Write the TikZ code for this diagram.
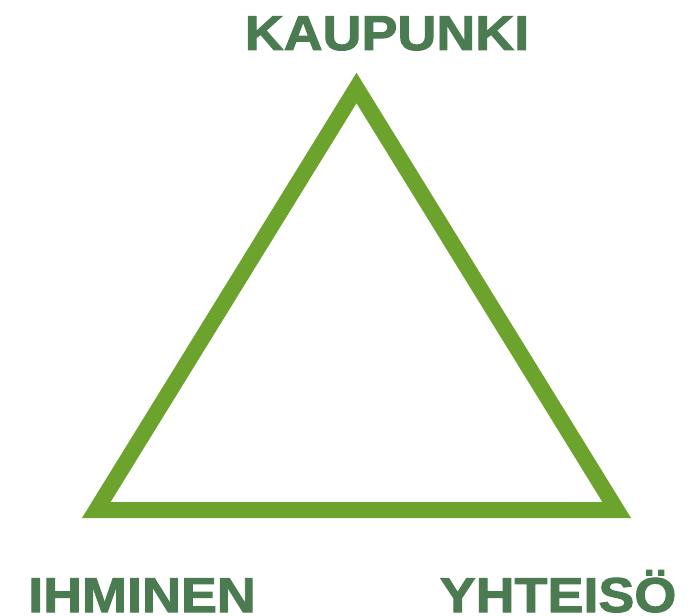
\documentclass[tikz,border=0pt]{standalone}
\usepackage{fontspec}
\setmainfont{Liberation Sans}[FakeStretch=1.1,BoldFeatures={FakeBold=2}]
\usepackage{tikz}
\usetikzlibrary{positioning,calc}
\definecolor{trigreen}{RGB}{107,163,44}
\definecolor{labgreen}{RGB}{75,123,80}
\tikzset{
  tri/.style={draw=trigreen,line width=16pt,line join=miter},
  lab/.style={inner sep=0pt,anchor=base,text=labgreen,font=\fontsize{49}{49}\selectfont\bfseries},
}
\begin{document}
\begin{tikzpicture}[x=1pt,y=-1pt]
  \useasboundingbox (0,0) rectangle (700,615);
  \coordinate (top) at (356.5,88);
  \coordinate (left) at (96.3,510);
  \coordinate (right) at (616.7,510);
  \draw[tri] (top) -- (left) -- (right) -- cycle;
  \node[lab] (city) at (387,50) {KAUPUNKI};
  \node[lab] (person) at (142,612) {IHMINEN};
  \node[lab] (community) at (558,612) {YHTEISÖ};
\end{tikzpicture}
\end{document}
